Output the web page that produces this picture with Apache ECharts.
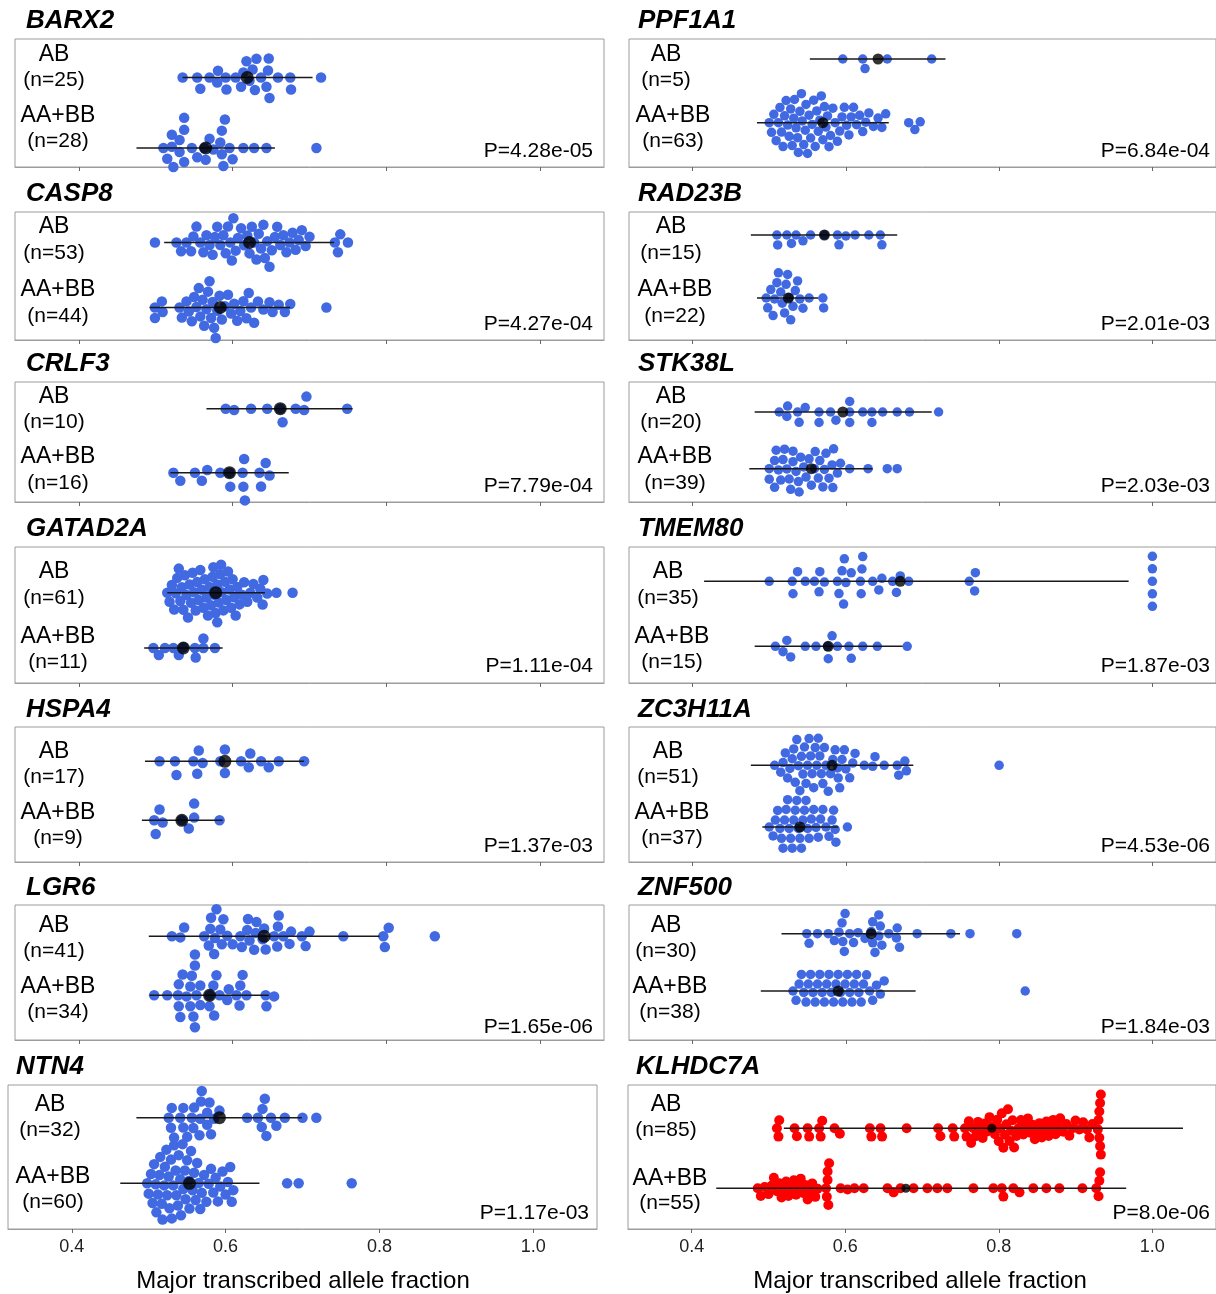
<!DOCTYPE html>
<html>
<head>
<meta charset="utf-8">
<script src="https://cdn.jsdelivr.net/npm/echarts@6/dist/echarts.min.js"></script>
<style>
html,body{margin:0;padding:0;background:#fff;}
#chart{width:1216px;height:1294px;}
</style>
</head>
<body>
<div id="chart"></div>
<script>
// ---------------- data ----------------
const genes = ['BARX2','CASP8','CRLF3','GATAD2A','HSPA4','LGR6','NTN4',
               'PPF1A1','RAD23B','STK38L','TMEM80','ZC3H11A','ZNF500','KLHDC7A'];
const groupNames = ['AB','AA+BB'];
const nAB = [25,53,10,61,17,41,32, 5,15,20,35,51,30,85];
const nAA = [28,44,16,11,9,34,60, 63,22,39,15,37,38,55];
const pValues = ['P=4.28e-05','P=4.27e-04','P=7.79e-04','P=1.11e-04','P=1.37e-03','P=1.65e-06','P=1.17e-03',
                 'P=6.84e-04','P=2.01e-03','P=2.03e-03','P=1.87e-03','P=4.53e-06','P=1.84e-03','P=8.0e-06'];
const tickValues = [0.4, 0.6, 0.8, 1.0];
const tickLabels = ['0.4', '0.6', '0.8', '1.0'];
const axisTitle = 'Major transcribed allele fraction';

const BARX2_AB = [0.535,0.554,0.558,0.570,0.581,0.592,0.604,0.631,0.637,0.648,0.659,0.675,0.715,
  0.580,0.591,0.611,0.629,0.644,0.676,0.646,0.647,0.614,0.618,0.622,0.626];
const BARX2_AA = [0.510,0.515,0.523,0.531,0.537,0.547,0.554,0.584,0.590,0.600,0.614,0.628,0.644,0.709,
  0.521,0.537,0.537,0.586,0.588,0.521,0.537,0.531,0.563,0.570,0.586,0.565,0.575,0.596];
const CASP8_AB = [0.499,0.527,0.533,0.540,0.546,0.549,0.553,0.558,0.562,0.566,0.570,0.574,0.577,0.580,
  0.584,0.588,0.591,0.594,0.597,0.599,0.601,0.604,0.607,0.611,0.615,0.619,0.622,0.625,0.628,0.631,0.634,
  0.637,0.640,0.642,0.645,0.648,0.651,0.655,0.658,0.662,0.666,0.670,0.674,0.678,0.682,0.686,0.690,0.695,
  0.700,0.733,0.737,0.740,0.750];
const CASP8_AA = [0.499,0.499,0.508,0.509,0.531,0.534,0.540,0.543,0.547,0.550,0.553,0.556,0.558,0.561,
  0.563,0.566,0.568,0.570,0.572,0.574,0.576,0.578,0.580,0.583,0.586,0.590,0.594,0.598,0.602,0.606,0.610,
  0.614,0.618,0.621,0.624,0.628,0.633,0.640,0.648,0.652,0.660,0.668,0.675,0.722];
const CRLF3_AB = [0.591,0.602,0.624,0.645,0.662,0.682,0.693,0.749,0.665,0.696];
const CRLF3_AA = [0.523,0.532,0.551,0.560,0.567,0.584,0.596,0.614,0.635,0.643,0.615,0.616,0.613,0.637,0.648,0.597];
const GATAD2A_AB = [0.515,0.518,0.521,0.524,0.526,0.528,0.530,0.532,0.534,0.536,
  0.538,0.540,0.542,0.544,0.546,0.548,0.550,0.552,0.554,0.556,
  0.558,0.560,0.562,0.564,0.566,0.568,0.570,0.572,0.574,0.576,
  0.578,0.580,0.582,0.584,0.586,0.588,0.590,0.592,0.594,0.596,
  0.598,0.600,0.602,0.604,0.606,0.609,0.612,0.615,0.619,0.623,
  0.627,0.632,0.636,0.640,0.639,0.645,0.657,0.678,0.580,0.575,0.585];
const GATAD2A_AA = [0.497,0.504,0.512,0.523,0.536,0.551,0.562,0.577,0.530,0.552,0.562];
const HSPA4_AB = [0.505,0.525,0.549,0.556,0.561,0.584,0.590,0.611,0.621,0.637,0.647,0.660,0.693,0.527,0.554,0.590,0.623];
const HSPA4_AA = [0.498,0.500,0.505,0.509,0.534,0.543,0.550,0.550,0.583];
const LGR6_AB = [0.521,0.532,0.537,0.563,0.569,0.571,0.572,0.576,0.577,0.579,0.584,0.586,0.588,0.593,
  0.600,0.610,0.619,0.620,0.622,0.628,0.630,0.631,0.639,0.641,0.643,0.654,0.658,0.659,0.660,0.666,
  0.674,0.676,0.690,0.695,0.700,0.744,0.796,0.798,0.803,0.863,0.612];
const LGR6_AA = [0.498,0.515,0.529,0.540,0.551,0.570,0.583,0.605,0.618,0.643,0.654,0.530,0.535,0.547,
  0.551,0.545,0.553,0.576,0.593,0.610,0.530,0.545,0.558,0.532,0.549,0.558,0.551,0.575,0.579,0.595,
  0.609,0.613,0.644,0.570];
const NTN4_AB = [0.526,0.533,0.545,0.558,0.567,0.576,0.592,0.628,0.642,0.653,0.659,0.666,0.677,0.700,0.718,
  0.530,0.545,0.556,0.569,0.581,0.568,0.579,0.651,0.648,0.529,0.541,0.550,0.559,0.566,0.576,0.647,0.585];
const NTN4_AA = [0.498,0.500,0.503,0.505,0.507,0.509,0.510,0.512,0.514,0.515,
  0.517,0.518,0.520,0.521,0.523,0.524,0.526,0.527,0.529,0.530,
  0.532,0.533,0.535,0.536,0.538,0.539,0.541,0.542,0.544,0.545,
  0.547,0.548,0.550,0.552,0.553,0.555,0.557,0.559,0.561,0.563,
  0.565,0.567,0.569,0.572,0.575,0.578,0.581,0.584,0.587,0.590,
  0.593,0.596,0.600,0.603,0.606,0.608,0.610,0.680,0.695,0.764];
const PPF1A1_AB = [0.596,0.622,0.625,0.654,0.712];
const PPF1A1_AA = [0.500,0.503,0.506,0.509,0.512,0.514,0.516,0.518,0.520,0.522,
  0.524,0.526,0.528,0.530,0.532,0.533,0.535,0.537,0.538,0.540,
  0.542,0.543,0.545,0.547,0.548,0.550,0.552,0.554,0.556,0.558,
  0.560,0.562,0.564,0.566,0.568,0.570,0.572,0.574,0.576,0.578,
  0.580,0.583,0.586,0.589,0.592,0.595,0.598,0.601,0.604,0.607,
  0.610,0.614,0.618,0.622,0.626,0.630,0.636,0.642,0.647,0.652,
  0.682,0.690,0.697];
const RAD23B_AB = [0.510,0.511,0.523,0.529,0.535,0.544,0.554,0.572,0.589,0.591,0.600,0.612,0.630,0.645,0.647];
const RAD23B_AA = [0.496,0.498,0.502,0.505,0.507,0.510,0.512,0.515,0.517,0.520,
  0.522,0.524,0.526,0.528,0.531,0.534,0.537,0.540,0.544,0.552,0.570,0.571];
const STK38L_AB = [0.513,0.523,0.524,0.537,0.539,0.547,0.565,0.565,0.587,0.605,0.605,0.605,0.580,0.622,
  0.634,0.634,0.648,0.667,0.683,0.721];
const STK38L_AA = [0.500,0.518,0.535,0.555,0.574,0.589,0.605,0.629,0.654,0.667,
  0.507,0.523,0.531,0.538,0.541,0.560,0.582,0.584,
  0.500,0.507,0.509,0.520,0.531,0.539,0.559,0.564,0.572,0.583,
  0.512,0.515,0.526,0.528,0.545,0.548,0.552,0.566,0.570,0.578,0.593];
const TMEM80_AB = [0.500,0.530,0.531,0.537,0.547,0.559,0.565,0.566,0.572,0.589,0.591,0.595,0.597,0.598,
  0.600,0.607,0.619,0.620,0.621,0.622,0.635,0.643,0.647,0.661,0.666,0.671,0.682,0.761,0.768,0.769,
  1.0,1.0,1.0,1.0,1.0];
const TMEM80_AA = [0.508,0.547,0.561,0.577,0.589,0.604,0.622,0.641,0.680,0.523,0.582,0.518,0.528,0.576,0.607];
const ZC3H11A_AB = [0.507,0.515,0.518,0.521,0.524,0.527,0.530,0.532,0.534,0.536,
  0.538,0.540,0.542,0.544,0.546,0.548,0.550,0.552,0.554,0.556,
  0.558,0.560,0.562,0.564,0.566,0.568,0.570,0.572,0.574,0.577,
  0.580,0.583,0.586,0.589,0.592,0.595,0.598,0.600,0.605,0.609,
  0.612,0.624,0.635,0.638,0.650,0.667,0.669,0.677,0.679,0.800,0.590];
const ZC3H11A_AA = [0.500,0.505,0.508,0.511,0.514,0.516,0.518,0.520,0.522,0.524,
  0.526,0.528,0.530,0.532,0.534,0.536,0.538,0.540,0.542,0.544,
  0.546,0.548,0.550,0.552,0.555,0.558,0.561,0.564,0.567,0.570,
  0.574,0.578,0.582,0.584,0.586,0.587,0.602];
const ZNF500_AB = [0.549,0.563,0.577,0.591,0.616,0.633,0.643,0.656,0.667,0.693,0.737,0.762,0.823,
  0.595,0.598,0.635,0.645,0.670,0.552,0.585,0.596,0.605,0.599,0.635,0.643,0.647,0.666,0.610,0.625,0.638];
const ZNF500_AA = [0.531,0.535,0.539,0.542,0.545,0.548,0.551,0.554,0.557,0.560,
  0.563,0.566,0.569,0.572,0.575,0.578,0.581,0.584,0.587,0.590,
  0.593,0.596,0.599,0.602,0.605,0.608,0.611,0.614,0.617,0.620,
  0.623,0.627,0.631,0.635,0.640,0.645,0.650,0.834];
const KLHDC7A_AB = [0.511,0.513,0.514,0.534,0.537,0.551,0.553,0.566,0.568,0.570,0.586,0.593,
  0.632,0.634,0.646,0.648,0.680,0.721,0.724,0.740,0.742,
  0.756,0.758,0.761,0.764,0.767,0.770,0.773,0.776,0.779,0.782,
  0.785,0.788,0.792,0.795,0.798,0.800,0.802,0.804,0.806,0.808,
  0.810,0.812,0.814,0.816,0.818,0.820,0.823,0.826,0.829,0.832,
  0.835,0.838,0.841,0.844,0.847,0.850,0.853,0.856,0.859,0.862,
  0.865,0.868,0.871,0.874,0.877,0.880,0.884,0.888,0.892,0.896,
  0.900,0.905,0.910,0.915,0.918,0.922,0.929,0.930,0.931,0.931,
  0.932,0.932,0.933,0.933];
const KLHDC7A_AA = [0.486,0.490,0.495,0.500,0.504,0.507,0.511,0.514,0.517,0.520,
  0.523,0.526,0.530,0.533,0.536,0.539,0.542,0.545,0.548,0.551,
  0.554,0.557,0.561,0.564,0.575,0.576,0.577,0.577,0.578,0.579,
  0.594,0.603,0.612,0.624,0.655,0.663,0.672,0.689,0.707,0.720,
  0.733,0.767,0.793,0.804,0.806,0.819,0.827,0.845,0.862,0.879,
  0.909,0.927,0.930,0.931,0.932];

// summary marks: centre dot and horizontal line (lo..hi)
const centerAB = [0.619,0.622,0.662,0.578,0.590,0.641,0.592, 0.642,0.572,0.596,0.671,0.582,0.633,0.791];
const loAB     = [0.535,0.511,0.566,0.515,0.486,0.491,0.484, 0.553,0.476,0.481,0.415,0.476,0.516,0.520];
const hiAB     = [0.704,0.732,0.756,0.642,0.693,0.791,0.699, 0.730,0.667,0.712,0.969,0.688,0.749,1.040];
const centerAA = [0.565,0.584,0.596,0.536,0.534,0.570,0.553, 0.570,0.525,0.555,0.577,0.540,0.590,0.679];
const loAA     = [0.475,0.492,0.519,0.485,0.482,0.492,0.463, 0.484,0.484,0.474,0.481,0.491,0.489,0.432];
const hiAA     = [0.655,0.675,0.673,0.587,0.587,0.647,0.644, 0.656,0.564,0.635,0.674,0.590,0.691,0.966];

const valuesAB = [BARX2_AB,CASP8_AB,CRLF3_AB,GATAD2A_AB,HSPA4_AB,LGR6_AB,NTN4_AB,
                  PPF1A1_AB,RAD23B_AB,STK38L_AB,TMEM80_AB,ZC3H11A_AB,ZNF500_AB,KLHDC7A_AB];
const valuesAA = [BARX2_AA,CASP8_AA,CRLF3_AA,GATAD2A_AA,HSPA4_AA,LGR6_AA,NTN4_AA,
                  PPF1A1_AA,RAD23B_AA,STK38L_AA,TMEM80_AA,ZC3H11A_AA,ZNF500_AA,KLHDC7A_AA];

// ---------------- layout ----------------
const XMIN = 0.317, XMAX = 1.083, GRID_W = 589;
const panelLeft   = [15,15,15,15,15,15,8, 629,629,629,629,629,629,628];
const panelTop    = [39,212,382,547,727,905,1085, 39,212,382,547,727,905,1085];
const panelHeight = [128,128,120,136,135,135,144, 128,128,120,136,135,135,144];
const rowABpx = [77.5,242.5,408.7,592.7,761.3,936.3,1117.7, 59,235,412,581.3,765.3,933.7,1128.3];
const rowAApx = [148,307.5,472.7,648,820.3,995.3,1183.3, 122.7,298,468.7,646.3,827,991,1188.3];
const titleX = [26,26,26,26,26,26,16, 638,638,638,638,638,638,636];
const titleY = [21,194,364,529,710,888,1067, 21,194,364,529,710,888,1067];
const labABx = [54,54,54,54,54,54,50, 666,671,671,668,668,666,666];
const labAAx = [58,58,58,58,58,58,53, 673,675,675,672,672,670,670];
const labY = [[55,80,116,141],[227,253,290,316],[397,422,457,483],[572,598,637,662],
              [752,777,813,838],[926,951,987,1012],[1105,1130,1177,1202],
              [55,80,116,141],[227,253,290,316],[397,422,457,483],[572,598,637,662],
              [752,777,813,838],[926,951,987,1012],[1105,1130,1179,1203]];
const pX = [593,593,593,593,593,593,589, 1210,1210,1210,1210,1210,1210,1210];
const pY = [151,324,486,666,846,1027,1213, 151,324,486,666,846,1027,1213];
const dotSize  = [10.5,10.5,10.5,10.5,10.5,10.5,10.5, 9.5,9.5,9.5,9.5,9.5,9.5,10];
const meanSize = [13,13,13,13,13,13,13, 11,11,11,11,11,11,9];
const sepX = [8.5,8.5,8.5,8,8.5,8.5,8.5, 8.5,8.5,8.5,8.5,8.5,8.5,7];
const sepY = [12,10.5,14,9.5,14,11,10.5, 10,10,10.5,12.5,10,10,8.5];
const FONT = '"Liberation Sans", Arial, sans-serif';

// beeswarm: place points in ascending order as close to the centre line as possible
function swarm(values, pxPerX, sx, sy) {
  const order = values.map((v, i) => i).sort((a, b) => values[a] - values[b]);
  const placed = [];
  const out = new Array(values.length);
  for (const i of order) {
    const x = values[i] * pxPerX;
    const near = placed.filter(p => Math.abs(p.x - x) < sx);
    const cands = [0];
    near.forEach(p => {
      const t = (p.x - x) / sx;
      const dy = sy * Math.sqrt(Math.max(0, 1 - t * t));
      cands.push(p.y + dy, p.y - dy);
    });
    cands.sort((a, b) => Math.abs(a) - Math.abs(b) || a - b);
    let y = 0;
    for (const c of cands) {
      const ok = near.every(p => {
        const tx = (p.x - x) / sx, ty = (p.y - c) / sy;
        return tx * tx + ty * ty >= 1 - 1e-6;
      });
      if (ok) { y = c; break; }
    }
    placed.push({ x, y });
    out[i] = y;
  }
  return out;
}

const option = { animation: false, grid: [], xAxis: [], yAxis: [], series: [], graphic: [] };
const pxPerX = GRID_W / (XMAX - XMIN);

genes.forEach((g, i) => {
  const top = panelTop[i], h = panelHeight[i];
  const ppu = rowAApx[i] - rowABpx[i];
  const ymin = 1 - (top + h - rowAApx[i]) / ppu;
  const ymax = 2 + (rowABpx[i] - top) / ppu;
  const isBottom = (i === 6 || i === 13);
  option.grid.push({ left: panelLeft[i], top: top, width: GRID_W, height: h,
    show: true, borderColor: '#9c9c9c', borderWidth: 1, backgroundColor: 'transparent' });
  option.xAxis.push({ gridIndex: i, type: 'value', min: XMIN, max: XMAX,
    axisLine: { show: true, lineStyle: { color: '#9c9c9c', width: 1 } },
    axisTick: { show: true, customValues: tickValues, length: 4, lineStyle: { color: '#666' } },
    axisLabel: { show: isBottom, customValues: tickValues,
      formatter: v => tickLabels[tickValues.findIndex(t => Math.abs(t - v) < 1e-9)],
      fontSize: 18, color: '#222', fontFamily: FONT, margin: 9 },
    splitLine: { show: false } });
  option.yAxis.push({ gridIndex: i, type: 'value', min: ymin, max: ymax, show: false });

  const color = (g === 'KLHDC7A') ? '#ff0000' : '#4169e1';
  const offAB = swarm(valuesAB[i], pxPerX, sepX[i], sepY[i]);
  const offAA = swarm(valuesAA[i], pxPerX, sepX[i], sepY[i]);
  const pts = [];
  valuesAB[i].forEach((v, k) => pts.push([v, 2 + offAB[k] / ppu]));
  valuesAA[i].forEach((v, k) => pts.push([v, 1 + offAA[k] / ppu]));
  option.series.push({ type: 'scatter', xAxisIndex: i, yAxisIndex: i, data: pts,
    symbol: 'circle', symbolSize: dotSize[i], itemStyle: { color: color, opacity: 1 },
    silent: true, z: 2 });
  option.series.push({ type: 'line', xAxisIndex: i, yAxisIndex: i,
    data: [[loAB[i], 2], [hiAB[i], 2]], symbol: 'none', silent: true,
    lineStyle: { color: '#1a1a1a', width: 1.5 }, z: 3 });
  option.series.push({ type: 'line', xAxisIndex: i, yAxisIndex: i,
    data: [[loAA[i], 1], [hiAA[i], 1]], symbol: 'none', silent: true,
    lineStyle: { color: '#1a1a1a', width: 1.5 }, z: 3 });
  option.series.push({ type: 'scatter', xAxisIndex: i, yAxisIndex: i,
    data: [[centerAB[i], 2], [centerAA[i], 1]], symbol: 'circle', symbolSize: meanSize[i],
    itemStyle: { color: '#000' }, silent: true, z: 4 });

  const txt = (text, x, y, font, align) => option.graphic.push({ type: 'text', silent: true, z: 10,
    style: { text: text, x: x, y: y, font: font, fill: '#000', align: align || 'center', verticalAlign: 'middle' } });
  txt(g, titleX[i], titleY[i], 'italic bold 26px ' + FONT, 'left');
  txt(groupNames[0], labABx[i], labY[i][0], '23px ' + FONT);
  txt('(n=' + nAB[i] + ')', labABx[i], labY[i][1], '21px ' + FONT);
  txt(groupNames[1], labAAx[i], labY[i][2], '23px ' + FONT);
  txt('(n=' + nAA[i] + ')', labAAx[i], labY[i][3], '21px ' + FONT);
  txt(pValues[i], pX[i], pY[i], '21px ' + FONT, 'right');
});
option.graphic.push({ type: 'text', silent: true,
  style: { text: axisTitle, x: 303, y: 1281, font: '24px ' + FONT, fill: '#000', align: 'center', verticalAlign: 'middle' } });
option.graphic.push({ type: 'text', silent: true,
  style: { text: axisTitle, x: 920, y: 1281, font: '24px ' + FONT, fill: '#000', align: 'center', verticalAlign: 'middle' } });

const chart = echarts.init(document.getElementById('chart'), null, { renderer: 'canvas' });
chart.setOption(option);
</script>
</body>
</html>
